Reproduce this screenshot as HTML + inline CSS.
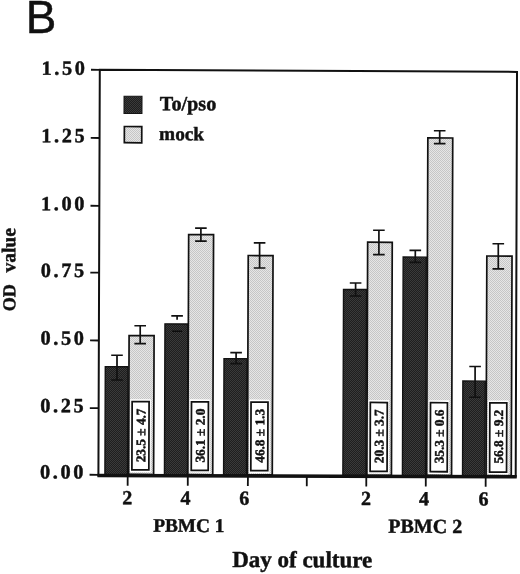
<!DOCTYPE html>
<html lang="en"><head><meta charset="utf-8"><title>Figure B</title>
<style>html,body{margin:0;padding:0;background:#fff}body{width:520px;height:574px;overflow:hidden}svg{display:block}text{font-family:"Liberation Serif", "DejaVu Serif", serif;font-weight:bold;fill:#111;stroke:#111;stroke-width:0.45px;stroke-linejoin:round}</style></head><body>
<svg width="520" height="574" viewBox="0 0 520 574">
<defs>
<pattern id="dk" width="2" height="2" patternUnits="userSpaceOnUse" patternTransform="rotate(-0.200 307.7 273.3)"><rect width="2" height="2" fill="#1e1e1e"/><rect width="1" height="1" fill="#3a3a3a"/><rect x="1" y="1" width="1" height="1" fill="#3a3a3a"/></pattern>
<pattern id="lt" width="2" height="2" patternUnits="userSpaceOnUse" patternTransform="rotate(-0.200 307.7 273.3)"><rect width="2" height="2" fill="#e6e6e6"/><rect width="1" height="1" fill="#c6c6c6"/><rect x="1" y="1" width="1" height="1" fill="#c6c6c6"/></pattern>
</defs>
<rect width="520" height="574" fill="#fff"/>
<g transform="rotate(0.200 307.7 273.3)">
<rect x="105.62" y="367.37" width="22.60" height="107.95" fill="url(#dk)" stroke="#121212" stroke-width="1.40"/>
<rect x="129.31" y="336.23" width="25.00" height="138.85" fill="url(#lt)" stroke="#111" stroke-width="1.70"/>
<line x1="117.29" y1="355.87" x2="117.37" y2="380.67" stroke="#111" stroke-width="1.70"/>
<line x1="111.49" y1="355.89" x2="123.09" y2="355.84" stroke="#111" stroke-width="1.60"/>
<line x1="111.57" y1="380.69" x2="123.17" y2="380.64" stroke="#111" stroke-width="1.60"/>
<line x1="140.38" y1="326.38" x2="140.45" y2="344.18" stroke="#111" stroke-width="1.70"/>
<line x1="134.58" y1="326.40" x2="146.18" y2="326.36" stroke="#111" stroke-width="1.60"/>
<line x1="134.65" y1="344.20" x2="146.25" y2="344.16" stroke="#111" stroke-width="1.60"/>
<rect x="130.72" y="399.78" width="20.60" height="73.00" fill="#fff"/>
<rect x="132.59" y="402.26" width="16.95" height="68.25" fill="#fff" stroke="#111" stroke-width="1.75"/>
<text x="145.92" y="435.97" font-size="13.30" text-anchor="middle" transform="rotate(-90 145.92 435.97)">23.5 ± 4.7</text>
<rect x="165.14" y="324.36" width="23.00" height="150.94" fill="url(#dk)" stroke="#121212" stroke-width="1.40"/>
<rect x="188.53" y="235.02" width="24.90" height="240.04" fill="url(#lt)" stroke="#111" stroke-width="1.70"/>
<line x1="177.25" y1="316.36" x2="177.26" y2="320.26" stroke="#111" stroke-width="1.70"/>
<line x1="172.30" y1="331.67" x2="182.30" y2="331.64" stroke="#0c0c0c" stroke-width="1.40"/>
<line x1="171.45" y1="316.38" x2="183.05" y2="316.34" stroke="#111" stroke-width="1.60"/>
<line x1="200.74" y1="228.47" x2="200.79" y2="241.47" stroke="#111" stroke-width="1.70"/>
<line x1="194.94" y1="228.49" x2="206.54" y2="228.45" stroke="#111" stroke-width="1.60"/>
<line x1="194.99" y1="241.49" x2="206.59" y2="241.45" stroke="#111" stroke-width="1.60"/>
<rect x="190.07" y="399.78" width="20.60" height="73.15" fill="#fff"/>
<rect x="191.94" y="402.26" width="16.95" height="68.40" fill="#fff" stroke="#111" stroke-width="1.75"/>
<text x="205.27" y="435.97" font-size="13.30" text-anchor="middle" transform="rotate(-90 205.27 435.97)">36.1 ± 2.0</text>
<rect x="224.30" y="358.95" width="22.90" height="116.34" fill="url(#dk)" stroke="#121212" stroke-width="1.40"/>
<rect x="248.17" y="255.72" width="24.80" height="219.34" fill="url(#lt)" stroke="#111" stroke-width="1.70"/>
<line x1="236.38" y1="352.85" x2="236.42" y2="363.85" stroke="#111" stroke-width="1.70"/>
<line x1="230.58" y1="352.87" x2="242.18" y2="352.83" stroke="#111" stroke-width="1.60"/>
<line x1="230.62" y1="363.87" x2="242.22" y2="363.83" stroke="#111" stroke-width="1.60"/>
<line x1="259.49" y1="243.07" x2="259.58" y2="268.17" stroke="#111" stroke-width="1.70"/>
<line x1="253.69" y1="243.09" x2="265.29" y2="243.05" stroke="#111" stroke-width="1.60"/>
<line x1="253.78" y1="268.19" x2="265.38" y2="268.15" stroke="#111" stroke-width="1.60"/>
<rect x="249.62" y="399.79" width="20.60" height="73.30" fill="#fff"/>
<rect x="251.49" y="402.26" width="16.95" height="68.55" fill="#fff" stroke="#111" stroke-width="1.75"/>
<text x="264.82" y="435.97" font-size="13.30" text-anchor="middle" transform="rotate(-90 264.82 435.97)">46.8 ± 1.3</text>
<rect x="343.58" y="289.34" width="23.00" height="185.92" fill="url(#dk)" stroke="#121212" stroke-width="1.40"/>
<rect x="367.55" y="242.00" width="24.60" height="233.02" fill="url(#lt)" stroke="#111" stroke-width="1.70"/>
<line x1="355.63" y1="282.83" x2="355.68" y2="295.83" stroke="#111" stroke-width="1.70"/>
<line x1="349.83" y1="282.85" x2="361.43" y2="282.81" stroke="#111" stroke-width="1.60"/>
<line x1="349.88" y1="295.85" x2="361.48" y2="295.81" stroke="#111" stroke-width="1.60"/>
<line x1="378.75" y1="230.05" x2="378.83" y2="254.35" stroke="#111" stroke-width="1.70"/>
<line x1="372.95" y1="230.07" x2="384.55" y2="230.03" stroke="#111" stroke-width="1.60"/>
<line x1="373.03" y1="254.37" x2="384.63" y2="254.33" stroke="#111" stroke-width="1.60"/>
<rect x="368.92" y="399.79" width="20.60" height="73.60" fill="#fff"/>
<rect x="370.80" y="402.26" width="16.95" height="68.85" fill="#fff" stroke="#111" stroke-width="1.75"/>
<text x="384.12" y="435.97" font-size="13.30" text-anchor="middle" transform="rotate(-90 384.12 435.97)">20.3 ± 3.7</text>
<rect x="403.12" y="256.73" width="23.10" height="218.52" fill="url(#dk)" stroke="#121212" stroke-width="1.40"/>
<rect x="427.37" y="137.49" width="24.90" height="337.52" fill="url(#lt)" stroke="#111" stroke-width="1.70"/>
<line x1="415.22" y1="250.02" x2="415.26" y2="262.02" stroke="#111" stroke-width="1.70"/>
<line x1="409.42" y1="250.04" x2="421.02" y2="250.00" stroke="#111" stroke-width="1.60"/>
<line x1="409.46" y1="262.04" x2="421.06" y2="262.00" stroke="#111" stroke-width="1.60"/>
<line x1="439.20" y1="130.34" x2="439.25" y2="143.14" stroke="#111" stroke-width="1.70"/>
<line x1="433.40" y1="130.36" x2="445.00" y2="130.32" stroke="#111" stroke-width="1.60"/>
<line x1="433.45" y1="143.16" x2="445.05" y2="143.12" stroke="#111" stroke-width="1.60"/>
<rect x="429.07" y="399.79" width="20.60" height="73.75" fill="#fff"/>
<rect x="430.95" y="402.26" width="16.95" height="69.00" fill="#fff" stroke="#111" stroke-width="1.75"/>
<text x="444.27" y="435.97" font-size="13.30" text-anchor="middle" transform="rotate(-90 444.27 435.97)">35.3 ± 0.6</text>
<rect x="463.24" y="380.52" width="22.40" height="94.71" fill="url(#dk)" stroke="#121212" stroke-width="1.40"/>
<rect x="486.77" y="255.38" width="25.20" height="219.61" fill="url(#lt)" stroke="#111" stroke-width="1.70"/>
<line x1="475.42" y1="365.92" x2="475.53" y2="396.71" stroke="#111" stroke-width="1.70"/>
<line x1="469.62" y1="365.94" x2="481.22" y2="365.89" stroke="#111" stroke-width="1.60"/>
<line x1="469.73" y1="396.74" x2="481.33" y2="396.69" stroke="#111" stroke-width="1.60"/>
<line x1="498.20" y1="243.13" x2="498.28" y2="268.23" stroke="#111" stroke-width="1.70"/>
<line x1="492.40" y1="243.16" x2="504.00" y2="243.11" stroke="#111" stroke-width="1.60"/>
<line x1="492.48" y1="268.25" x2="504.08" y2="268.21" stroke="#111" stroke-width="1.60"/>
<rect x="488.42" y="399.79" width="20.60" height="73.90" fill="#fff"/>
<rect x="490.30" y="402.26" width="16.95" height="69.15" fill="#fff" stroke="#111" stroke-width="1.75"/>
<text x="503.62" y="435.97" font-size="13.30" text-anchor="middle" transform="rotate(-90 503.62 435.97)">56.8 ± 9.2</text>
<polygon points="99.09,70.53 516.30,71.17 516.41,475.87 99.11,475.98" fill="none" stroke="#111" stroke-width="2" stroke-linejoin="miter"/>
<line x1="98.11" y1="476.18" x2="517.41" y2="476.07" stroke="#111" stroke-width="3.5"/>
<line x1="90.29" y1="475.53" x2="99.09" y2="475.53" stroke="#111" stroke-width="1.80"/>
<text x="40.80" y="479.43" font-size="20.30" text-anchor="start" letter-spacing="2.60">0.00</text>
<line x1="90.29" y1="408.83" x2="99.09" y2="408.83" stroke="#111" stroke-width="1.80"/>
<text x="40.80" y="413.13" font-size="20.30" text-anchor="start" letter-spacing="2.60">0.25</text>
<line x1="90.29" y1="341.23" x2="99.09" y2="341.23" stroke="#111" stroke-width="1.80"/>
<text x="40.80" y="345.53" font-size="20.30" text-anchor="start" letter-spacing="2.60">0.50</text>
<line x1="90.29" y1="273.43" x2="99.09" y2="273.43" stroke="#111" stroke-width="1.80"/>
<text x="40.80" y="277.93" font-size="20.30" text-anchor="start" letter-spacing="2.60">0.75</text>
<line x1="90.29" y1="206.53" x2="99.09" y2="206.53" stroke="#111" stroke-width="1.80"/>
<text x="40.81" y="211.13" font-size="20.30" text-anchor="start" letter-spacing="2.60">1.00</text>
<line x1="90.29" y1="138.73" x2="99.09" y2="138.73" stroke="#111" stroke-width="1.80"/>
<text x="40.81" y="143.13" font-size="20.30" text-anchor="start" letter-spacing="2.60">1.25</text>
<line x1="90.29" y1="70.53" x2="99.09" y2="70.53" stroke="#111" stroke-width="1.80"/>
<text x="40.81" y="75.63" font-size="20.30" text-anchor="start" letter-spacing="2.60">1.50</text>
<line x1="128.41" y1="475.97" x2="128.41" y2="486.27" stroke="#111" stroke-width="1.80"/>
<line x1="188.51" y1="475.96" x2="188.51" y2="486.26" stroke="#111" stroke-width="1.80"/>
<line x1="248.61" y1="475.94" x2="248.61" y2="486.24" stroke="#111" stroke-width="1.80"/>
<line x1="307.51" y1="475.93" x2="307.51" y2="486.23" stroke="#111" stroke-width="1.80"/>
<line x1="367.01" y1="475.91" x2="367.01" y2="486.21" stroke="#111" stroke-width="1.80"/>
<line x1="426.51" y1="475.90" x2="426.51" y2="486.20" stroke="#111" stroke-width="1.80"/>
<line x1="486.41" y1="475.88" x2="486.41" y2="486.18" stroke="#111" stroke-width="1.80"/>
<text x="128.11" y="504.93" font-size="20.00" text-anchor="middle">2</text>
<text x="186.31" y="504.93" font-size="20.00" text-anchor="middle">4</text>
<text x="245.01" y="504.93" font-size="20.00" text-anchor="middle">6</text>
<text x="366.81" y="504.93" font-size="20.00" text-anchor="middle">2</text>
<text x="424.81" y="504.93" font-size="20.00" text-anchor="middle">4</text>
<text x="484.21" y="504.93" font-size="20.00" text-anchor="middle">6</text>
<text x="189.70" y="532.31" font-size="19.30" text-anchor="middle">PBMC 1</text>
<text x="426.11" y="532.49" font-size="20.00" text-anchor="middle">PBMC 2</text>
<text x="303.23" y="567.22" font-size="23.00" text-anchor="middle">Day of culture</text>
<text x="15.43" y="312.32" font-size="18.20" text-anchor="start" transform="rotate(-90 15.43 312.32)">OD</text>
<text x="15.14" y="229.22" font-size="19.50" text-anchor="end" transform="rotate(-90 15.14 229.22)">value</text>
<rect x="123.41" y="96.81" width="18.00" height="17.30" fill="url(#dk)" stroke="#151515" stroke-width="1.00"/>
<rect x="123.87" y="127.16" width="17.40" height="16.20" fill="url(#lt)" stroke="#111" stroke-width="1.70"/>
<text x="159.23" y="110.72" font-size="20.20" text-anchor="start">To/pso</text>
<text x="158.64" y="140.62" font-size="19.30" text-anchor="start">mock</text>
</g>
<text transform="translate(25.65 33.4) scale(0.975 1)" x="0" y="0" font-size="47" style="font-family:'Liberation Sans',Arial,sans-serif;font-weight:normal;stroke-width:0.5px">B</text>
</svg></body></html>
